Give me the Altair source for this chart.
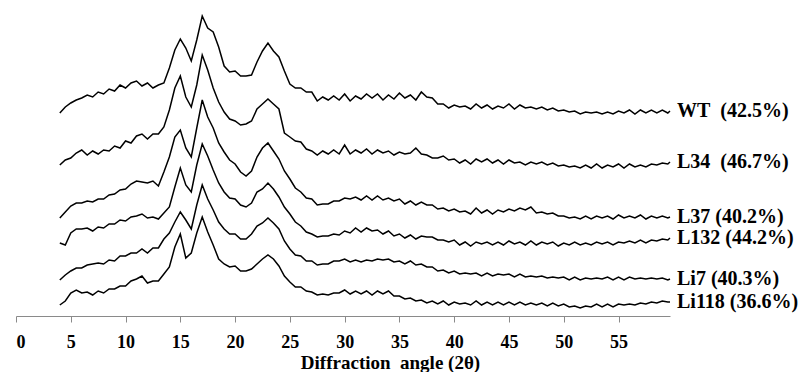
import altair as alt
import pandas as pd

# Diffraction angle grid (2θ, degrees)
angles = [4.0 + 0.5 * i for i in range(112)] + [59.7]

samples = ["WT", "L34", "L37", "L132", "Li7", "Li118"]
labels = ["WT\u00a0 (42.5%)", "L34\u00a0 (46.7%)", "L37 (40.2%)", "L132 (44.2%)", "Li7 (40.3%)", "Li118 (36.6%)"]

# Stacked (offset) intensities, arbitrary units
wt = [203, 209, 213, 216, 218, 221, 219, 224, 222, 227,
      225, 231, 228, 233, 235, 230, 233, 228, 231, 233,
      248, 266, 277, 268, 255, 276, 300, 288, 284, 269,
      250, 244, 245, 240, 240, 241, 254, 265, 273, 265,
      259, 245, 232, 228, 228, 224, 224, 215, 219, 216,
      220, 216, 222, 215, 220, 217, 222, 218, 222, 216,
      221, 217, 223, 218, 221, 216, 224, 219, 218, 212,
      212, 208, 211, 209, 210, 207, 212, 208, 211, 207,
      210, 208, 212, 207, 211, 208, 209, 207, 209, 206,
      208, 205, 206, 204, 205, 202, 204, 203, 204, 202,
      204, 202, 205, 203, 206, 202, 206, 203, 206, 203,
      206, 203,
      205]

l34 = [151, 156, 158, 163, 166, 161, 165, 162, 166, 165,
       170, 168, 175, 173, 180, 182, 177, 182, 182, 189,
       206, 228, 240, 219, 209, 231, 261, 246, 228, 214,
       204, 197, 195, 191, 192, 195, 207, 212, 217, 212,
       207, 183, 179, 175, 174, 167, 165, 161, 165, 162,
       166, 162, 171, 162, 166, 163, 167, 162, 166, 163,
       165, 161, 164, 162, 163, 168, 162, 161, 158, 158,
       160, 156, 157, 153, 156, 152, 157, 154, 157, 153,
       156, 152, 156, 153, 154, 151, 154, 152, 154, 151,
       153, 150, 151, 149, 150, 148, 151, 148, 152, 148,
       151, 149, 152, 148, 152, 149, 151, 149, 152, 151,
       153, 152,
       154]

l37 = [98, 104, 110, 113, 113, 115, 114, 117, 117, 121,
       122, 126, 127, 132, 135, 134, 133, 135, 130, 144,
       159, 179, 186, 168, 159, 188, 216, 199, 188, 173,
       164, 156, 152, 144, 140, 145, 159, 168, 173, 165,
       157, 145, 137, 128, 124, 118, 117, 111, 112, 112,
       115, 115, 118, 117, 119, 116, 120, 116, 120, 116,
       118, 115, 117, 112, 115, 111, 114, 111, 111, 107,
       108, 105, 107, 104, 105, 102, 108, 103, 106, 102,
       106, 104, 107, 105, 108, 106, 109, 103, 104, 102,
       103, 100, 100, 98, 99, 97, 100, 97, 100, 98,
       100, 97, 101, 98, 100, 98, 101, 97, 100, 98,
       100, 98,
       99]

l132 = [73, 71, 83, 87, 87, 88, 85, 89, 88, 92,
        92, 96, 95, 99, 100, 102, 98, 99, 97, 103,
        109, 129, 148, 131, 124, 151, 172, 160, 146, 133,
        124, 118, 117, 111, 109, 113, 124, 127, 133, 127,
        119, 109, 102, 94, 90, 84, 82, 79, 80, 80,
        82, 81, 85, 83, 88, 84, 88, 85, 86, 82,
        85, 80, 82, 78, 81, 77, 80, 79, 79, 76,
        76, 74, 76, 71, 74, 70, 74, 72, 74, 71,
        74, 71, 75, 72, 74, 71, 75, 71, 74, 72,
        74, 70, 73, 71, 74, 71, 73, 71, 74, 72,
        74, 71, 74, 73, 75, 73, 76, 73, 76, 75,
        77, 76,
        78]

li7 = [36, 41, 45, 48, 48, 51, 52, 53, 52, 56,
       55, 60, 60, 63, 63, 67, 63, 68, 68, 77,
       83, 94, 104, 96, 87, 111, 131, 117, 106, 94,
       87, 82, 82, 77, 77, 82, 90, 93, 98, 93,
       87, 75, 67, 61, 60, 55, 55, 51, 52, 52,
       55, 55, 57, 54, 56, 54, 56, 55, 57, 56,
       57, 54, 55, 52, 55, 51, 52, 49, 49, 45,
       46, 43, 45, 42, 43, 42, 43, 40, 43, 40,
       42, 41, 42, 39, 42, 39, 40, 39, 40, 38,
       39, 38, 39, 36, 39, 36, 38, 37, 38, 37,
       39, 36, 39, 36, 39, 37, 38, 37, 38, 37,
       38, 36,
       37]

li118 = [11, 15, 23, 26, 23, 24, 21, 25, 23, 27,
         27, 30, 30, 35, 37, 40, 33, 35, 35, 42,
         49, 69, 82, 58, 63, 83, 99, 84, 71, 57,
         52, 49, 50, 45, 45, 47, 52, 57, 61, 57,
         50, 40, 34, 29, 29, 25, 24, 21, 22, 21,
         23, 23, 26, 22, 25, 22, 25, 21, 25, 22,
         25, 20, 20, 17, 18, 15, 16, 13, 15, 12,
         15, 11, 14, 12, 13, 11, 15, 11, 14, 11,
         14, 11, 14, 11, 14, 11, 13, 11, 13, 10,
         13, 10, 12, 9, 10, 8, 10, 9, 12, 9,
         12, 9, 12, 11, 12, 11, 13, 12, 14, 13,
         15, 14,
         14]

tick_values = [0, 5, 10, 15, 20, 25, 30, 35, 40, 45, 50, 55]

series = [wt, l34, l37, l132, li7, li118]
rows = []
for name, vals in zip(samples, series):
    for a, v in zip(angles, vals):
        rows.append({"angle": a, "intensity": v, "sample": name})
df = pd.DataFrame(rows)

lab_df = pd.DataFrame({
    "sample": samples,
    "label": labels,
    "angle": [angles[-1]] * len(samples),
    "intensity": [s[-1] for s in series],
})

FONT = "Liberation Serif"

x = alt.X(
    "angle:Q",
    scale=alt.Scale(domain=[0, 59.7], nice=False, zero=False),
    axis=alt.Axis(
        values=tick_values,
        title="Diffraction\u00a0 angle (2θ)",
        grid=False,
        domainColor="#8a8a8a",
        tickColor="#8a8a8a",
        tickSize=6,
        labelFont=FONT,
        labelFontSize=18,
        labelFontWeight="bold",
        labelColor="black",
        labelPadding=11,
        labelBaseline="top",
        titleFont=FONT,
        titleFontSize=19,
        titleFontWeight="bold",
        titleColor="black",
        titleX=374,
        titleY=52,
        titleAlign="center",
        titleBaseline="alphabetic",
    ),
)
y = alt.Y("intensity:Q", scale=alt.Scale(domain=[0, 316], nice=False), axis=None)

lines = alt.Chart(df).mark_line(color="black", strokeWidth=1.5).encode(
    x=x, y=y, detail="sample:N"
)

texts = alt.Chart(lab_df).mark_text(
    align="left", baseline="middle", dx=7, font=FONT, fontSize=20,
    fontWeight="bold", color="black"
).encode(x="angle:Q", y="intensity:Q", text="label:N")

chart = (lines + texts).properties(
    width=654,
    height=316,
    autosize=alt.AutoSizeParams(type="none"),
    padding={"left": 16, "top": 0, "right": 136, "bottom": 56},
    background="white",
).configure_view(stroke=None).configure_axis(
    labelFont=FONT, titleFont=FONT
)

chart.save("out.html", embed_options={"renderer": "svg", "actions": False})
